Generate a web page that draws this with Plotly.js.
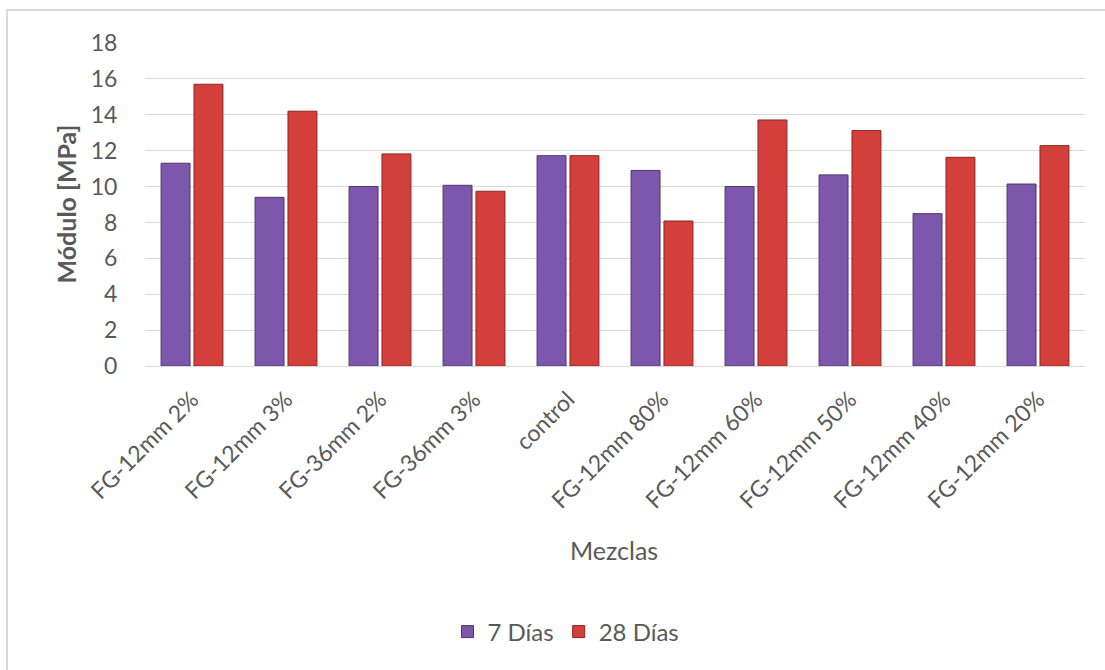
<!DOCTYPE html>
<html>
<head>
<meta charset="utf-8">
<script src="https://cdn.plot.ly/plotly-3.0.1.min.js"></script>
<style>
html,body{margin:0;padding:0;background:#fff;overflow:hidden;}
#wrap{position:relative;width:1105px;height:670px;}
#frame{position:absolute;left:6px;top:9px;width:1120px;height:680px;border:2px solid #d9d9d9;box-sizing:border-box;pointer-events:none;z-index:5;}
#chart{position:absolute;left:0;top:0;width:1105px;height:670px;}
</style>
</head>
<body>
<div id="wrap"><div id="chart"></div><div id="frame"></div></div>
<script>
const categories = ["FG-12mm 2%","FG-12mm 3%","FG-36mm 2%","FG-36mm 3%","control","FG-12mm 80%","FG-12mm 60%","FG-12mm 50%","FG-12mm 40%","FG-12mm 20%"];
const dias7 = [11.3, 9.4, 10.0, 10.07, 11.72, 10.9, 10.0, 10.65, 8.49, 10.14];
const dias28 = [15.7, 14.2, 11.82, 9.74, 11.72, 8.08, 13.71, 13.12, 11.63, 12.28];
const yTicks = [0,2,4,6,8,10,12,14,16,18];

const font = "Lato, 'Open Sans', sans-serif";
const traces = [
  {type:"bar", name:"7 Días", x:categories, y:dias7,
   marker:{color:"#7D57AB", line:{color:"#4E3470", width:1}}},
  {type:"bar", name:"28 Días", x:categories, y:dias28,
   marker:{color:"#D33F3A", line:{color:"#8E2420", width:1}}}
];
const layout = {
  width:1105, height:670,
  margin:{l:145, r:20, t:43, b:304},
  paper_bgcolor:"#fff", plot_bgcolor:"#fff",
  barmode:"group", bargap:0.30, bargroupgap:0.12,
  font:{family:font, color:"#595959", size:20},
  xaxis:{tickangle:-45, tickfont:{size:23, color:"#595959"}, showline:true, linecolor:"#d9d9d9", linewidth:1,
         ticks:"outside", ticklen:10, tickcolor:"rgba(0,0,0,0)", automargin:false},
  yaxis:{range:[0,18], tickvals:yTicks, ticktext:yTicks.map(String), showgrid:true, gridcolor:"#d9d9d9", zeroline:false,
         tickfont:{size:23, color:"#595959"}, ticks:"outside", ticklen:22, tickcolor:"rgba(0,0,0,0)", automargin:false},
  annotations:[
    {text:"Mezclas", xref:"paper", yref:"paper", x:(614-145)/940, y:(366-550)/323, xanchor:"center", yanchor:"middle",
     showarrow:false, font:{size:25, color:"#595959"}},
    {text:"<b>Módulo [MPa]</b>", xref:"paper", yref:"paper", x:(65-145)/940, y:0.5, xanchor:"center", yanchor:"middle",
     textangle:-90, showarrow:false, font:{size:25, color:"#595959"}}
  ],
  legend:{orientation:"h", x:(566-145)/940, xanchor:"center", y:-(632-366)/323, yanchor:"middle", font:{size:24, color:"#595959"}, itemwidth:30, traceorder:"normal"},
  showlegend:true
};
Plotly.newPlot("chart", traces, layout, {displayModeBar:false, staticPlot:true});
</script>
</body>
</html>
